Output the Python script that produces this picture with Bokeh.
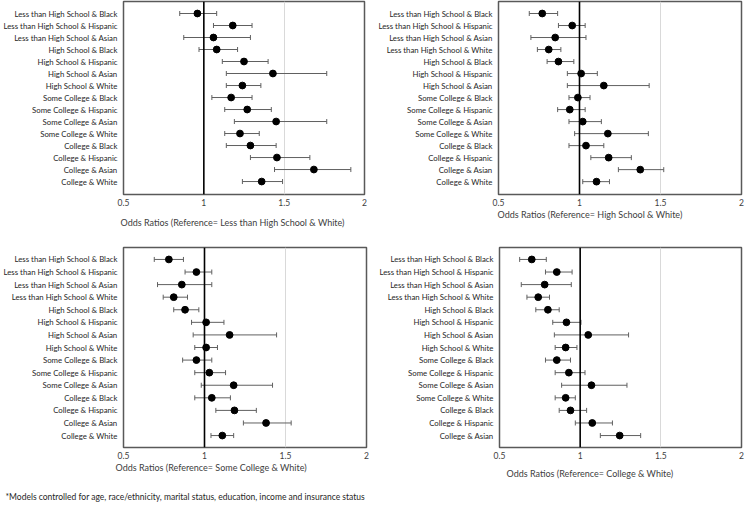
from bokeh.plotting import figure
from bokeh.layouts import column, row
from bokeh.models import Range1d, FixedTicker, Span, Whisker, ColumnDataSource, Title, TeeHead
from bokeh.embed import file_html
from bokeh.resources import INLINE

# ---------------- data ----------------
labels1 = ["Less than High School & Black", "Less than High School & Hispanic", "Less than High School & Asian",
           "High School & Black", "High School & Hispanic", "High School & Asian", "High School & White",
           "Some College & Black", "Some College & Hispanic", "Some College & Asian", "Some College & White",
           "College & Black", "College & Hispanic", "College & Asian", "College & White"]
or1 = [0.96, 1.18, 1.06, 1.08, 1.25, 1.43, 1.24, 1.17, 1.27, 1.45, 1.225, 1.29, 1.455, 1.685, 1.36]
lo1 = [0.85, 1.06, 0.875, 0.97, 1.115, 1.14, 1.14, 1.05, 1.13, 1.19, 1.13, 1.14, 1.29, 1.44, 1.24]
hi1 = [1.08, 1.30, 1.29, 1.21, 1.40, 1.765, 1.355, 1.30, 1.42, 1.765, 1.345, 1.45, 1.66, 1.915, 1.49]
title1 = "Odds Ratios (Reference= Less than High School & White)"

labels2 = ["Less than High School & Black", "Less than High School & Hispanic", "Less than High School & Asian",
           "Less than High School & White", "High School & Black", "High School & Hispanic", "High School & Asian",
           "Some College & Black", "Some College & Hispanic", "Some College & Asian", "Some College & White",
           "College & Black", "College & Hispanic", "College & Asian", "College & White"]
or2 = [0.77, 0.955, 0.85, 0.81, 0.87, 1.01, 1.15, 0.99, 0.94, 1.02, 1.175, 1.04, 1.18, 1.375, 1.105]
lo2 = [0.69, 0.87, 0.70, 0.74, 0.80, 0.925, 0.925, 0.935, 0.865, 0.935, 0.97, 0.935, 1.07, 1.24, 1.02]
hi2 = [0.865, 1.035, 1.04, 0.885, 0.965, 1.11, 1.43, 1.065, 1.035, 1.135, 1.425, 1.15, 1.32, 1.52, 1.185]
title2 = "Odds Ratios (Reference= High School & White)"

labels3 = ["Less than High School & Black", "Less than High School & Hispanic", "Less than High School & Asian",
           "Less than High School & White", "High School & Black", "High School & Hispanic", "High School & Asian",
           "High School & White", "Some College & Black", "Some College & Hispanic", "Some College & Asian",
           "College & Black", "College & Hispanic", "College & Asian", "College & White"]
or3 = [0.78, 0.95, 0.86, 0.81, 0.88, 1.01, 1.155, 1.01, 0.95, 1.03, 1.18, 1.045, 1.185, 1.38, 1.11]
lo3 = [0.69, 0.88, 0.71, 0.745, 0.81, 0.92, 0.93, 0.94, 0.865, 0.94, 0.98, 0.94, 1.07, 1.24, 1.04]
hi3 = [0.87, 1.045, 1.045, 0.895, 0.965, 1.12, 1.445, 1.08, 1.045, 1.13, 1.42, 1.16, 1.32, 1.535, 1.18]
title3 = "Odds Ratios (Reference= Some College & White)"

labels4 = ["Less than High School & Black", "Less than High School & Hispanic", "Less than High School & Asian",
           "Less than High School & White", "High School & Black", "High School & Hispanic", "High School & Asian",
           "High School & White", "Some College & Black", "Some College & Hispanic", "Some College & Asian",
           "Some College & White", "College & Black", "College & Hispanic", "College & Asian"]
or4 = [0.70, 0.855, 0.78, 0.74, 0.80, 0.915, 1.05, 0.91, 0.855, 0.93, 1.07, 0.91, 0.94, 1.075, 1.245]
lo4 = [0.625, 0.785, 0.635, 0.67, 0.725, 0.83, 0.84, 0.845, 0.785, 0.845, 0.885, 0.845, 0.87, 0.97, 1.125]
hi4 = [0.79, 0.95, 0.945, 0.81, 0.87, 1.005, 1.30, 0.98, 0.94, 1.03, 1.29, 0.97, 1.04, 1.20, 1.375]
title4 = "Odds Ratios (Reference= College & White)"

x_ticks = [0.5, 1, 1.5, 2]
x_tick_labels = ["0.5", "1", "1.5", "2"]
footnote = "*Models controlled for age, race/ethnicity, marital status, education, income and insurance status"

FONT = "Lato"


def make_panel(labels, ors, los, his, title, width, height, bl, br, bt, bb, yr, title_pad, title_offset):
    n = len(labels)
    ys = [n - i for i in range(n)]
    src = ColumnDataSource(dict(y=ys, orv=ors, lo=los, hi=his))
    p = figure(width=width, height=height, output_backend="svg", toolbar_location=None,
               x_range=Range1d(0.5, 2.0), y_range=Range1d(*yr),
               min_border_left=bl, min_border_right=br, min_border_top=bt, min_border_bottom=bb)
    p.outline_line_color = "#595959"
    p.outline_line_width = 1.5
    p.background_fill_color = "white"
    p.border_fill_color = "white"

    # grid
    p.xgrid.ticker = FixedTicker(ticks=[1.5])
    p.xgrid.grid_line_color = "#d9d9d9"
    p.xgrid.grid_line_width = 1
    p.ygrid.visible = False

    # x axis
    p.xaxis.ticker = FixedTicker(ticks=x_ticks)
    p.xaxis.major_label_overrides = {t: s for t, s in zip(x_ticks, x_tick_labels)}
    p.xaxis.axis_line_color = None
    p.xaxis.major_tick_line_color = None
    p.xaxis.minor_tick_line_color = None
    p.xaxis.major_tick_out = 0
    p.xaxis.major_tick_in = 0
    p.xaxis.minor_tick_out = 0
    p.xaxis.major_label_standoff = 4
    p.xaxis.major_label_text_font = FONT
    p.xaxis.major_label_text_font_size = "8.5px"
    p.xaxis.major_label_text_color = "#404040"

    # y axis
    p.yaxis.ticker = FixedTicker(ticks=ys)
    p.yaxis.major_label_overrides = {y: l for y, l in zip(ys, labels)}
    p.yaxis.axis_line_color = None
    p.yaxis.major_tick_line_color = None
    p.yaxis.minor_tick_line_color = None
    p.yaxis.major_tick_out = 0
    p.yaxis.major_tick_in = 0
    p.yaxis.minor_tick_out = 0
    p.yaxis.major_label_standoff = 6
    p.yaxis.major_label_text_font = FONT
    p.yaxis.major_label_text_font_size = "7.8px"
    p.yaxis.major_label_text_color = "#262626"

    p.add_layout(Span(location=1, dimension="height", line_color="black", line_width=1.6))

    w = Whisker(source=src, base="y", lower="lo", upper="hi", dimension="width",
                line_color="#606060", line_width=1,
                lower_head=TeeHead(size=5, line_color="#606060", line_width=1),
                upper_head=TeeHead(size=5, line_color="#606060", line_width=1))
    p.add_layout(w)
    p.scatter("orv", "y", source=src, size=6.8, color="black")

    p.add_layout(Title(text=title, align="left", vertical_align="top", text_font=FONT,
                       text_font_size="9px", text_font_style="normal", text_color="#404040",
                       standoff=0, offset=title_offset,
                       padding=dict(left=0, right=0, top=title_pad, bottom=0)), "below")
    return p


p1 = make_panel(labels1, or1, lo1, hi1, title1, 373, 246, 117, 9, 1, 52, (-0.08, 16.0), 8, -3)
p2 = make_panel(labels2, or2, lo2, hi2, title2, 373, 246, 125, 5, 1, 50, (-0.07, 16.0), 0, -1)
p3 = make_panel(labels3, or3, lo3, hi3, title3, 373, 262, 120, 7, 1, 61, (0.05, 15.95), 0, -8)
p4 = make_panel(labels4, or4, lo4, hi4, title4, 373, 262, 126, 5, 1, 60, (0.05, 15.95), 6, 7)

p3.add_layout(Title(text=footnote, align="left", vertical_align="top", text_font=FONT,
                    text_font_size="8.5px", text_font_style="normal", text_color="#262626",
                    standoff=0, offset=-118,
                    padding=dict(left=0, right=0, top=17, bottom=0)), "below")

layout = column(row(p1, p2), row(p3, p4))
open("out.html", "w").write(file_html(layout, INLINE))
